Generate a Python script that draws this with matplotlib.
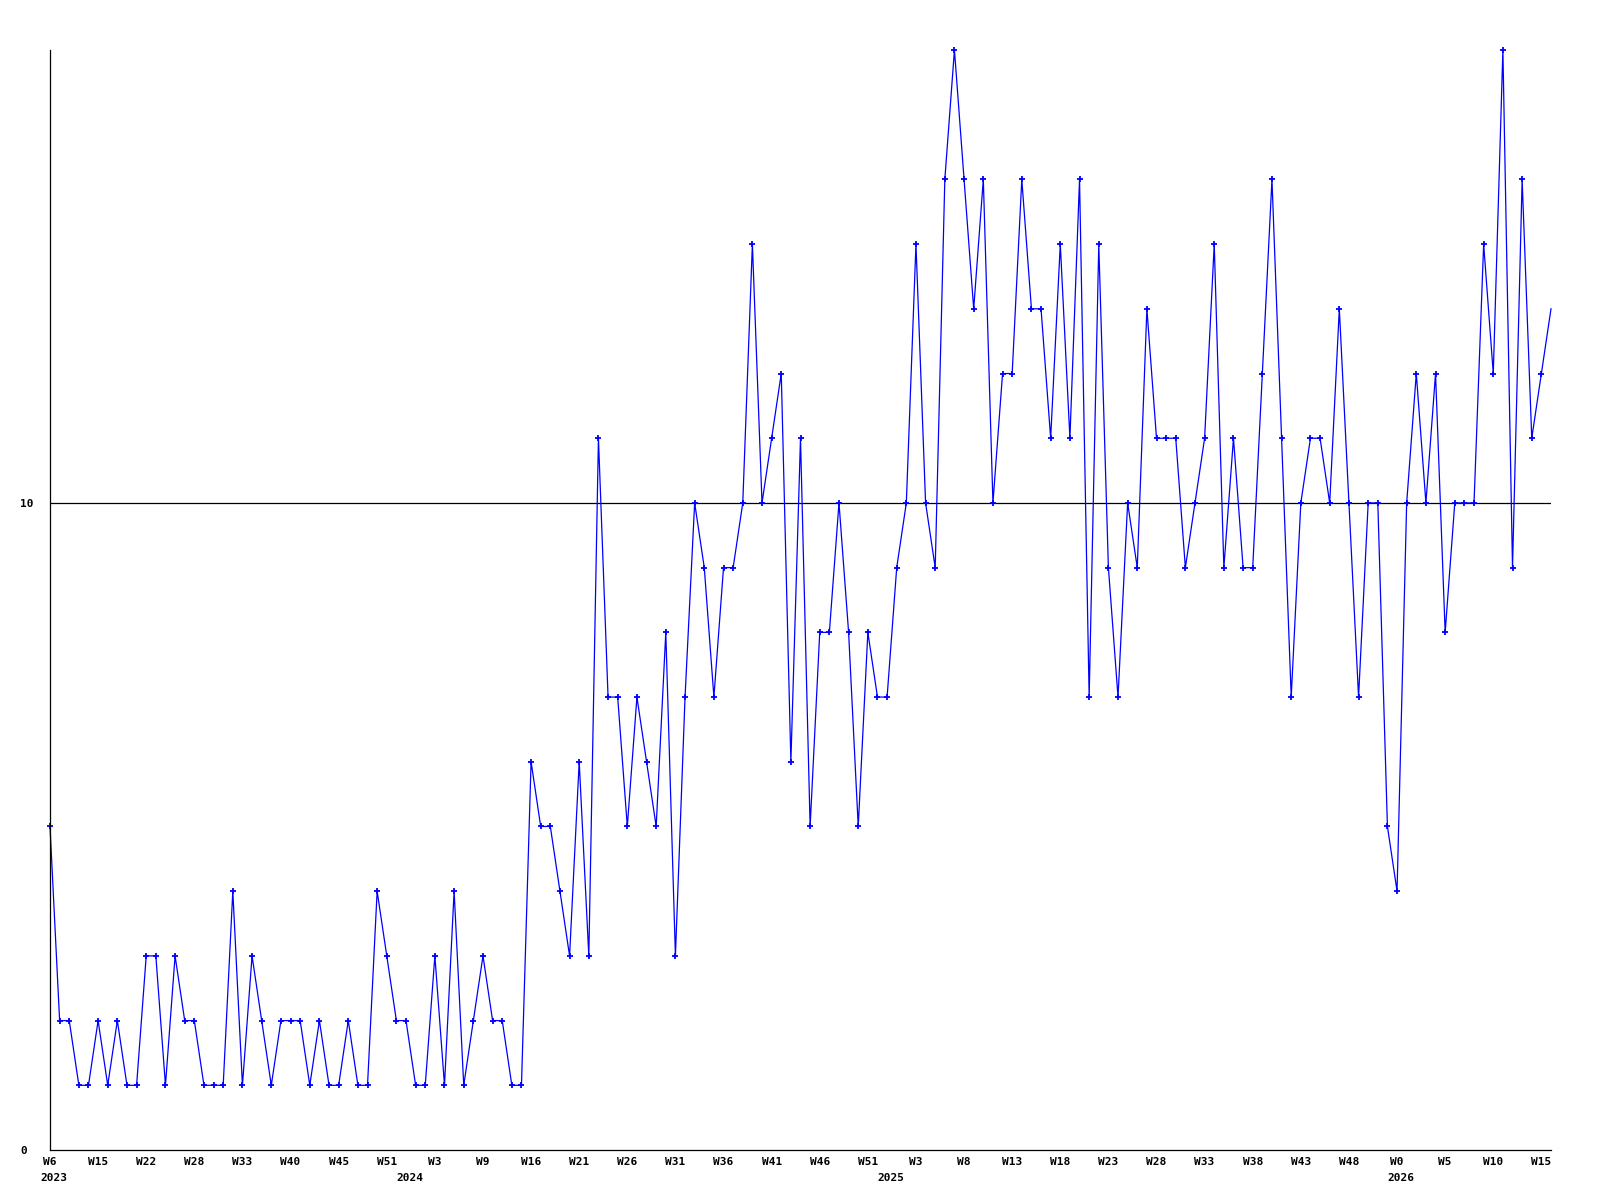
import matplotlib.pyplot as plt
from matplotlib.transforms import blended_transform_factory

# weekly values, one per point
values = [5, 2, 2, 1, 1, 2, 1, 2, 1, 1,
          3, 3, 1, 3, 2, 2, 1, 1, 1, 4,
          1, 3, 2, 1, 2, 2, 2, 1, 2, 1,
          1, 2, 1, 1, 4, 3, 2, 2, 1, 1,
          3, 1, 4, 1, 2, 3, 2, 2, 1, 1,
          6, 5, 5, 4, 3, 6, 3, 11, 7, 7,
          5, 7, 6, 5, 8, 3, 7, 10, 9, 7,
          9, 9, 10, 14, 10, 11, 12, 6, 11, 5,
          8, 8, 10, 8, 5, 8, 7, 7, 9, 10,
          14, 10, 9, 15, 17, 15, 13, 15, 10, 12,
          12, 15, 13, 13, 11, 14, 11, 15, 7, 14,
          9, 7, 10, 9, 13, 11, 11, 11, 9, 10,
          11, 14, 9, 11, 9, 9, 12, 15, 11, 7,
          10, 11, 11, 10, 13, 10, 7, 10, 10, 5,
          4, 10, 12, 10, 12, 8, 10, 10, 10, 14,
          12, 17, 9, 15, 11, 12, 13]

week_labels = ['W6', 'W15', 'W22', 'W28', 'W33', 'W40', 'W45', 'W51',
               'W3', 'W9', 'W16', 'W21', 'W26', 'W31', 'W36', 'W41',
               'W46', 'W51', 'W3', 'W8', 'W13', 'W18', 'W23', 'W28',
               'W33', 'W38', 'W43', 'W48', 'W0', 'W5', 'W10', 'W15']
label_step = 5

years = ['2023', '2024', '2025', '2026']
year_pos = [0, 37, 87, 140]

font = {'family': 'DejaVu Sans Mono', 'weight': 'bold', 'size': 8}

fig = plt.figure(figsize=(16, 12), dpi=100)
ax = fig.add_axes([50 / 1600, 50 / 1200, 1501 / 1600, 1100 / 1200])

x = list(range(len(values)))
# last point sits on the right edge, drawn without a marker
ax.plot(x, values, color='#0000ff', linewidth=0.9, marker='+',
        markersize=4, markeredgewidth=1.3, clip_on=False,
        markevery=list(range(len(values) - 1)))
ax.axhline(10, color='black', linewidth=0.9, zorder=0)

ax.set_xlim(0, len(values) - 1)
ax.set_ylim(0, 17)

for s in ['top', 'right']:
    ax.spines[s].set_visible(False)
for s in ['left', 'bottom']:
    ax.spines[s].set_linewidth(0.9)

ax.set_yticks([0, 10])
ax.set_yticklabels(['0', '10'], fontdict=font, ha='left')
ax.tick_params(axis='y', length=0, pad=21.6)

ax.set_xticks(range(0, len(week_labels) * label_step, label_step))
ax.set_xticklabels(week_labels, fontdict=font)
ax.tick_params(axis='x', length=0, pad=5)

trans = blended_transform_factory(ax.transData, ax.transAxes)
for yr, pos in zip(years, year_pos):
    ax.text(pos - 1.05, -0.021, yr, transform=trans, ha='left', va='top',
            **font)

fig.savefig('out.png', dpi=100)
